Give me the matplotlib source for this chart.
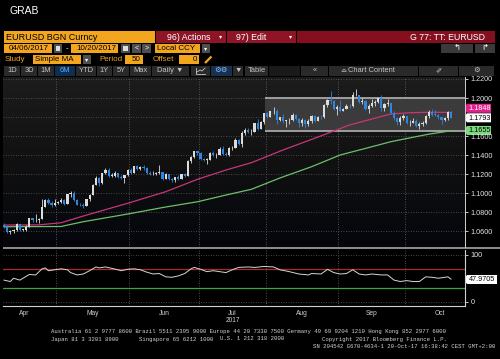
import numpy as np
import pandas as pd
import matplotlib
matplotlib.use("Agg")
import matplotlib.pyplot as plt
from matplotlib.patches import Rectangle, Polygon

plt.rcParams['font.family'] = ['Liberation Sans', 'DejaVu Sans']

# DATA (EURUSD daily bars)
dates = pd.bdate_range("2017-04-06", "2017-10-20")
first_open = 1.0664

close = [
    1.0645, 1.0590, 1.0600, 1.0611, 1.0670, 1.0615, 1.0615, 1.0644, 1.0732, 1.0716, 1.0716, 1.0726,
    1.0856, 1.0930, 1.0893, 1.0873, 1.0895,
    1.0901, 1.0928, 1.0885, 1.0985, 1.0998, 1.0927, 1.0876, 1.0870, 1.0864, 1.0932, 1.0980, 1.1087,
    1.1160, 1.1102, 1.1208, 1.1243, 1.1183, 1.1183, 1.1210, 1.1164, 1.1163, 1.1185, 1.1244,
    1.1214, 1.1282, 1.1253, 1.1276, 1.1260, 1.1212, 1.1196, 1.1196, 1.1212, 1.1217, 1.1150, 1.1197,
    1.1143, 1.1134, 1.1166, 1.1151, 1.1196, 1.1181, 1.1336, 1.1376, 1.1443, 1.1426,
    1.1362, 1.1348, 1.1352, 1.1422, 1.1400, 1.1401, 1.1466, 1.1413, 1.1397, 1.1470, 1.1477, 1.1557,
    1.1521, 1.1631, 1.1667, 1.1642, 1.1647, 1.1735, 1.1676, 1.1749, 1.1842,
    1.1804, 1.1859, 1.1868, 1.1773, 1.1795, 1.1755, 1.1764, 1.1771, 1.1822, 1.1780, 1.1736, 1.1771,
    1.1725, 1.1761, 1.1812, 1.1763, 1.1802, 1.1799, 1.1924, 1.1979, 1.1967, 1.1888, 1.1910,
    1.1860, 1.1889, 1.1918, 1.1915, 1.2028, 1.2036, 1.1955, 1.1967, 1.1886, 1.1918, 1.1943, 1.1954,
    1.1996, 1.1890, 1.1940, 1.1950, 1.1845, 1.1793, 1.1748, 1.1786, 1.1814,
    1.1733, 1.1741, 1.1762, 1.1703, 1.1731, 1.1736, 1.1809, 1.1855, 1.1826, 1.1822, 1.1795, 1.1764,
    1.1788, 1.1849, 1.1793,
]
high = [
    1.0680, 1.0660, 1.0615, 1.0625, 1.0680, 1.0677, 1.0625, 1.0660, 1.0738, 1.0740, 1.0778, 1.0740,
    1.0937, 1.0940, 1.0950, 1.0920, 1.0935,
    1.0920, 1.0950, 1.0935, 1.0990, 1.1020, 1.1023, 1.0935, 1.0900, 1.0890, 1.0940, 1.0990, 1.1100,
    1.1175, 1.1170, 1.1213, 1.1260, 1.1268, 1.1215, 1.1235, 1.1215, 1.1185, 1.1190, 1.1255,
    1.1265, 1.1285, 1.1290, 1.1285, 1.1295, 1.1270, 1.1230, 1.1235, 1.1225, 1.1295, 1.1220, 1.1210,
    1.1205, 1.1160, 1.1170, 1.1185, 1.1200, 1.1215, 1.1350, 1.1390, 1.1445, 1.1445,
    1.1430, 1.1370, 1.1368, 1.1428, 1.1440, 1.1420, 1.1480, 1.1490, 1.1435, 1.1480, 1.1490, 1.1583,
    1.1570, 1.1655, 1.1680, 1.1680, 1.1670, 1.1740, 1.1775, 1.1760, 1.1845,
    1.1850, 1.1860, 1.1910, 1.1880, 1.1805, 1.1830, 1.1770, 1.1790, 1.1845, 1.1830, 1.1790, 1.1785,
    1.1780, 1.1775, 1.1820, 1.1825, 1.1810, 1.1820, 1.1940, 1.1985, 1.2070, 1.1975, 1.1925,
    1.1980, 1.1900, 1.1935, 1.1940, 1.2060, 1.2090, 1.2025, 1.1995, 1.1975, 1.1935, 1.1985, 1.1980,
    1.2005, 1.2035, 1.1950, 1.1985, 1.1950, 1.1860, 1.1800, 1.1810, 1.1830,
    1.1810, 1.1765, 1.1790, 1.1775, 1.1750, 1.1760, 1.1820, 1.1870, 1.1880, 1.1870, 1.1835, 1.1805,
    1.1795, 1.1860, 1.1860,
]
low = [
    1.0630, 1.0580, 1.0570, 1.0580, 1.0600, 1.0605, 1.0605, 1.0600, 1.0640, 1.0690, 1.0700, 1.0680,
    1.0820, 1.0850, 1.0880, 1.0850, 1.0860,
    1.0880, 1.0890, 1.0870, 1.0880, 1.0960, 1.0915, 1.0870, 1.0860, 1.0838, 1.0860, 1.0920, 1.0975,
    1.1085, 1.1075, 1.1100, 1.1195, 1.1170, 1.1165, 1.1170, 1.1160, 1.1150, 1.1110, 1.1175,
    1.1205, 1.1210, 1.1240, 1.1240, 1.1240, 1.1200, 1.1185, 1.1185, 1.1185, 1.1195, 1.1132, 1.1145,
    1.1135, 1.1120, 1.1120, 1.1140, 1.1150, 1.1170, 1.1180, 1.1320, 1.1370, 1.1400,
    1.1350, 1.1335, 1.1310, 1.1345, 1.1390, 1.1370, 1.1395, 1.1400, 1.1390, 1.1390, 1.1455, 1.1475,
    1.1510, 1.1480, 1.1615, 1.1630, 1.1610, 1.1640, 1.1660, 1.1670, 1.1730,
    1.1790, 1.1800, 1.1830, 1.1730, 1.1760, 1.1740, 1.1690, 1.1730, 1.1760, 1.1770, 1.1690, 1.1710,
    1.1680, 1.1710, 1.1740, 1.1750, 1.1765, 1.1775, 1.1785, 1.1910, 1.1940, 1.1870, 1.1825,
    1.1855, 1.1860, 1.1880, 1.1895, 1.1905, 1.2020, 1.1945, 1.1940, 1.1870, 1.1840, 1.1910, 1.1920,
    1.1945, 1.1860, 1.1865, 1.1920, 1.1835, 1.1770, 1.1720, 1.1720, 1.1770,
    1.1725, 1.1710, 1.1735, 1.1695, 1.1670, 1.1710, 1.1730, 1.1790, 1.1810, 1.1810, 1.1780, 1.1730,
    1.1755, 1.1770, 1.1785,
]

# moving averages (bar index, value)
ma_short_idx = [0, 11, 18, 25, 39, 51, 61, 70, 78, 88, 99, 109, 122, 128, 134, 141]
ma_short_val = [1.0663, 1.0665, 1.0687, 1.0758, 1.0892, 1.1014, 1.1144, 1.1242, 1.1319,
                1.1453, 1.1589, 1.1716, 1.1832, 1.1845, 1.1850, 1.1848]
ma_long_idx = [0, 18, 25, 39, 51, 61, 70, 78, 87, 97, 106, 116, 122, 128, 134, 141]
ma_long_val = [1.0645, 1.0648, 1.0698, 1.0779, 1.0853, 1.0908, 1.0979, 1.1039, 1.1158,
               1.1277, 1.1400, 1.1487, 1.1540, 1.1580, 1.1620, 1.1655]

# RSI (bar index, value)
rsi_idx = [0, 2, 3, 5, 8, 10, 12, 13, 14, 17, 18, 20, 21, 23, 25, 27, 29, 30, 32, 34,
           37, 39, 41, 43, 45, 47, 49, 51, 53, 55, 57, 59, 60, 62, 64, 66, 68, 70, 72, 74,
           77, 79, 82, 85, 87, 90, 93, 96, 97, 100, 102, 104, 106, 108, 110, 112, 114, 116, 119, 121,
           123, 125, 127, 129, 131, 133, 135, 137, 140, 141]
rsi_val = [46, 43, 50, 46, 58, 57, 70, 72, 66, 69, 70, 68, 62, 57, 59, 66, 74, 72, 74, 71,
           66, 69, 70, 68, 63, 59, 60, 53, 52, 55, 60, 70, 73, 69, 64, 66, 64, 62, 68, 73,
           74, 73, 75, 74, 68, 64, 59, 57, 60, 59, 69, 62, 59, 60, 68, 59, 57, 59, 57, 57,
           46, 43, 45, 43, 43, 53, 52, 50, 53, 47.97]

price_ticks = [1.06, 1.08, 1.10, 1.12, 1.14, 1.16, 1.18, 1.20, 1.22]
# 1.1800 sits fully behind the last-price tag in the reference
price_labels = ["1.0600", "1.0800", "1.1000", "1.1200", "1.1400", "1.1600", "", "1.2000", "1.2200"]
month_names = ["Apr", "May", "Jun", "Jul", "Aug", "Sep", "Oct"]
box_top, box_bottom = 1.2001, 1.1655
last_px, last_ma_short, last_ma_long, last_rsi = "1.1793", "1.1848", "1.1655", "47.9705"

ORANGE = "#f4a51e"
RED = "#8e1426"
RED2 = "#860f1f"
BTN = "#2a2a2a"
ICON = "#4e4e4e"
FOOT = "#d4d4d4"

# FIGURE + UI LAYER (pixel coords)
fig = plt.figure(figsize=(5, 3.59), dpi=100, facecolor="black")
bg = fig.add_axes([0, 0, 1, 1])
bg.set_xlim(0, 500)
bg.set_ylim(359, 0)
bg.axis("off")


def box(x0, y0, x1, y1, color, z=1):
    bg.add_patch(Rectangle((x0, y0), x1 - x0, y1 - y0, facecolor=color,
                           edgecolor="none", zorder=z))


def label(x, y, s, color="black", size=5.8, ha="left", **kw):
    bg.text(x, y, s, color=color, fontsize=size, ha=ha, va="center", zorder=5, **kw)


label(9, 11, "GRAB", color="white", size=7.5)

# row 1
box(4, 31, 155, 43, ORANGE)
label(6, 37.3, "EURUSD BGN Curncy", size=6.5)
box(156, 31, 226, 43, RED)
label(167, 37.3, "96) Actions", color="white", size=6.3)
label(219, 37, "\u25be", color="white", size=4.5)
box(227, 31, 296, 43, RED)
label(236, 37.3, "97) Edit", color="white", size=6.3)
label(289, 37, "\u25be", color="white", size=4.5)
box(297, 31, 495, 43, RED2)
label(485, 37.3, "G 77: TT: EURUSD", color="white", size=6.3, ha="right")

# row 2
box(4, 44, 52, 53, ORANGE)
label(9, 48.7, "04/06/2017")
box(54, 44, 62, 53, ICON)
box(56, 46, 60, 51, "#dddddd", z=2)
label(66, 48.5, "-", color="white")
box(71, 44, 118, 53, ORANGE)
label(76, 48.7, "10/20/2017")
box(121, 44, 130, 53, ICON)
box(123, 46, 128, 51, "#dddddd", z=2)
box(132, 44, 141, 53, ICON)
label(136.5, 48.5, "<", color="white", size=5, ha="center")
box(142, 44, 151, 53, ICON)
label(146.5, 48.5, ">", color="white", size=5, ha="center")
box(155, 44, 200, 53, ORANGE)
label(157, 48.7, "Local CCY")
box(202, 44, 210, 53, ICON)
label(206, 48.5, "\u25be", color="white", size=4.5, ha="center")
box(441, 44, 473, 53, "#3a3a3a")
label(457, 48.5, "\u21b0", color="white", size=6, ha="center")
box(475, 44, 495, 53, "#3a3a3a")
label(485, 48.5, "\u21b1", color="white", size=6, ha="center")

# row 3
label(5, 59.7, "Study", color=ORANGE)
box(33, 55, 81, 64, ORANGE)
label(35, 59.7, "Simple MA")
box(83, 55, 91, 64, ICON)
label(87, 59.5, "\u25be", color="white", size=4.5, ha="center")
label(99, 59.7, "Period", color=ORANGE)
box(125, 55, 143, 64, ORANGE)
label(141, 59.7, "50", ha="right")
label(153, 59.7, "Offset", color=ORANGE)
box(179, 55, 199, 64, ORANGE)
label(197, 59.7, "0", ha="right")
bg.plot([205, 211.5], [63, 56.5], color=ORANGE, lw=1.6, solid_capstyle="butt")

# row 4 (toolbar)
buttons = [(4, 20, "1D"), (21, 37, "3D"), (38, 54, "1M"), (55, 75, "6M"), (76, 96, "YTD"),
           (97, 112, "1Y"), (113, 129, "5Y"), (130, 151, "Max"), (152, 189, "Daily \u25bc"),
           (191, 210, ""), (211, 232, "\u2699\u2699"), (233, 243, "\u25bc"), (245, 268, "Table"),
           (301, 328, "\u00ab"), (329, 418, "Chart Content"), (419, 458, "\u2710"), (459, 494, "\u2699")]
for x0, x1, s in buttons:
    col, tcol = BTN, "#c4c4c4"
    if s == "6M":
        col, tcol = "#0f2f52", "#5aaeff"
    if s == "\u2699\u2699":
        col, tcol = "#16324f", "#8cc4ff"
    box(x0, 65.5, x1, 75.5, col)
    if s == "Chart Content":
        label(348, 70.7, s, color=tcol, size=5.4)
        label(340, 70.5, "\u224f", color=tcol, size=5.4)
    elif s:
        label((x0 + x1) / 2, 70.7, s, color=tcol, size=5.4, ha="center")
box(269, 65.5, 300, 75.5, "#1a1a1a")
bg.plot([196, 196, 205], [67.5, 73.5, 73.5], color="#c4c4c4", lw=0.6)
bg.plot([197, 200, 202, 205], [72, 70, 71, 68], color="#c4c4c4", lw=0.6)

# separator between panels
box(3, 246.5, 500, 249, "#8a8a8a", z=3)

# x positions of trading days / months
all_days = pd.bdate_range("2017-04-01", "2017-11-30")
base = all_days.get_loc(dates[0])
month_pos = []
for m in range(4, 12):
    first = all_days[all_days.month == m][0]
    month_pos.append(all_days.get_loc(first) - base - 0.5)
month_mid = [(a + b) / 2 for a, b in zip(month_pos[:-1], month_pos[1:])]
grid_pos = month_pos[1:7]

n = len(close)
idx = np.arange(n)
c = np.array(close)
o = np.r_[first_open, c[:-1]]
h = np.maximum(np.array(high), np.maximum(o, c))
l = np.minimum(np.array(low), np.minimum(o, c))
xmin, xmax = -0.32, 145.4

# MAIN PRICE PANEL
ax = fig.add_axes([3 / 500, 1 - 247 / 359, 462 / 500, 170 / 359])
ax.set_xlim(xmin, xmax)
ax.set_ylim(1.0432, 1.2221)
grad = np.linspace(0, 1, 256).reshape(-1, 1)
bg_cmap = matplotlib.colors.LinearSegmentedColormap.from_list("bgg", ["#1c1c1c", "#111112", "#04060c"])
ax.imshow(grad, aspect="auto", extent=[xmin, xmax, 1.0432, 1.2221], origin="upper",
          cmap=bg_cmap, zorder=0)
for p in price_ticks:
    ax.axhline(p, color="#5c5c5c", lw=0.6, ls=(0, (1, 2)), zorder=1)
for gx in grid_pos:
    ax.axvline(gx, color="#6a6a6a", lw=0.6, ls=(0, (1, 2)), zorder=1)

ax.add_patch(Rectangle((82.3, box_bottom), xmax - 82.3, box_top - box_bottom,
                       facecolor="#3b3b3b", edgecolor="none", zorder=1.5))
ax.hlines([box_top, box_bottom], 82.3, xmax, color="#a8a8a8", lw=1.3, zorder=1.6)

ax.plot(ma_long_idx, ma_long_val, color="#6cbf6c", lw=0.9, zorder=2)
ax.plot(ma_short_idx, ma_short_val, color="#c8357a", lw=0.9, zorder=2)

up = c >= o
cols = np.where(up, "#dcdcdc", "#2f86dd")
ax.vlines(idx, l, h, color=cols, lw=0.6, zorder=3)
body = np.maximum(np.abs(c - o), 0.0005)
ax.bar(idx, body, bottom=np.minimum(o, c), width=0.7, color=cols, zorder=3.5)

ax.yaxis.tick_right()
ax.set_yticks(price_ticks)
ax.set_yticklabels(price_labels)
ax.tick_params(axis="y", colors="#e6e6e6", labelsize=5.2, length=2.5, width=0.6, pad=1.5)
ax.set_xticks([])
for s in ["left", "top", "bottom"]:
    ax.spines[s].set_visible(False)
ax.spines["right"].set_color("#d0d0d0")
ax.spines["right"].set_linewidth(0.7)


# value tags on the right
def tag(yc, text, face, tcol="black", x1=491):
    bg.add_patch(Polygon([(463.5, yc), (467, yc - 4.5), (x1, yc - 4.5), (x1, yc + 4.5), (467, yc + 4.5)],
                         closed=True, facecolor=face, edgecolor="none", zorder=6))
    bg.text(468.5, yc + 0.3, text, color=tcol, fontsize=5.2, va="center", ha="left", zorder=7)


tag(108.3, last_ma_short, "#e0218a", tcol="white")
tag(117.8, last_px, "white")
tag(130.5, last_ma_long, "#7bdc7b")

# RSI PANEL
rsi = fig.add_axes([3 / 500, 1 - 306 / 359, 462 / 500, 56 / 359])
rsi.set_facecolor("black")
rsi.set_xlim(xmin, xmax)
rsi.set_ylim(-9, 110)
for v in [0, 100]:
    rsi.axhline(v, color="#5c5c5c", lw=0.6, ls=(0, (1, 2)))
for gx in grid_pos:
    rsi.axvline(gx, color="#6a6a6a", lw=0.6, ls=(0, (1, 2)))
rsi.axhline(70, color="#a82a2a", lw=0.9)
rsi.axhline(30, color="#39a839", lw=0.9)
rsi.plot(rsi_idx, rsi_val, color="#d6d6d6", lw=0.7)
rsi.yaxis.tick_right()
rsi.set_yticks([0, 100])
rsi.set_yticklabels(["0", "100"])
rsi.tick_params(axis="y", colors="#e6e6e6", labelsize=5.2, length=2.5, width=0.6, pad=1.5)
rsi.set_xticks(month_mid)
rsi.set_xticklabels(month_names)
rsi.tick_params(axis="x", colors="#d0d0d0", labelsize=4.8, length=0, pad=3)
for s in ["left", "top"]:
    rsi.spines[s].set_visible(False)
for s in ["right", "bottom"]:
    rsi.spines[s].set_color("#d0d0d0")
    rsi.spines[s].set_linewidth(0.8)
tag(279.5, last_rsi, "white", x1=497)
label(233, 320.5, "2017", color="#d0d0d0", size=4.8, ha="center")

# footer
foot = dict(family="Liberation Mono", color=FOOT, fontsize=4.1, va="center")
bg.text(51, 332, "Australia 61 2 9777 8600 Brazil 5511 2395 9000 Europe 44 20 7330 7500 "
        "Germany 49 69 9204 1210 Hong Kong 852 2977 6000", **foot)
bg.text(51, 339, "Japan 81 3 3201 8900", **foot)
bg.text(139, 339, "Singapore 65 6212 1000", **foot)
bg.text(220, 339, "U.S. 1 212 318 2000", **foot)
bg.text(322, 339, "Copyright 2017 Bloomberg Finance L.P.", **foot)
bg.text(495, 346, "SN 204542 G670-4634-1 20-Oct-17 16:38:42 CEST GMT+2:00", ha="right", **foot)

fig.savefig("out.png", dpi=100, facecolor="black")
